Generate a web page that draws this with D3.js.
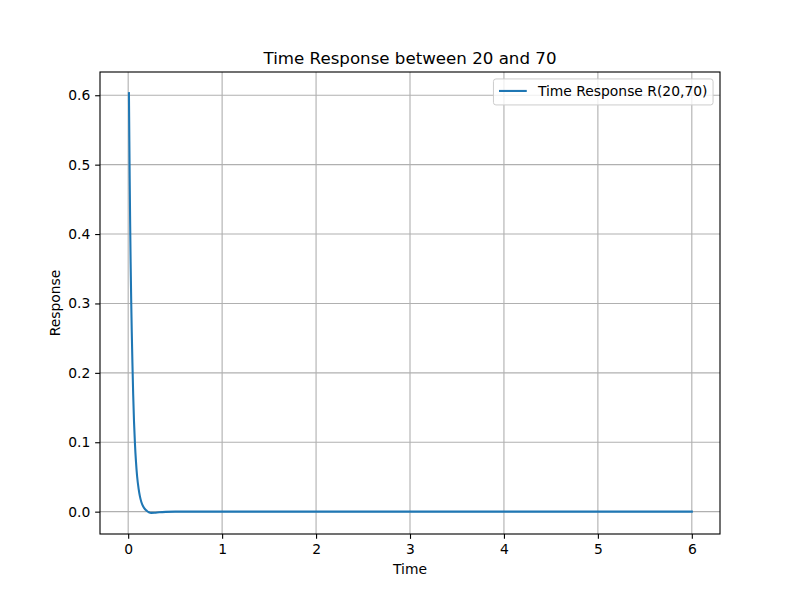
<!DOCTYPE html>
<html>
<head>
<meta charset="utf-8">
<script src="https://cdn.jsdelivr.net/npm/d3@7"></script>
<style>
  html, body { margin: 0; padding: 0; background: #ffffff; }
  svg { display: block; font-family: "DejaVu Sans", sans-serif; }
</style>
</head>
<body>
<svg id="chart" width="800" height="600"></svg>
<script>
// ---- data ----
const timeValues = [0.008, 0.012, 0.016, 0.021, 0.026, 0.032, 0.038, 0.045, 0.053, 0.062,
                    0.072, 0.083, 0.095, 0.11, 0.125, 0.14, 0.16, 0.18, 0.2, 0.22,
                    0.245, 0.28, 0.33, 0.4, 0.5, 1, 2, 3, 4, 5, 6];
const responseValues = [0.603, 0.54, 0.48, 0.415, 0.36, 0.305, 0.26, 0.215, 0.17, 0.13,
                        0.098, 0.072, 0.051, 0.034, 0.022, 0.014, 0.0075, 0.0035, 0.001, -0.0008,
                        -0.0018, -0.0016, -0.0009, -0.0003, 0, 0, 0, 0, 0, 0, 0];
const xTicks = [0, 1, 2, 3, 4, 5, 6];
const yTicks = [0.0, 0.1, 0.2, 0.3, 0.4, 0.5, 0.6];
const titleText = "Time Response between 20 and 70";
const xLabel = "Time";
const yLabel = "Response";
const seriesName = "Time Response R(20,70)";

// ---- layout (matplotlib default figure) ----
const pLeft = 100, pRight = 720, pTop = 72, pBottom = 534;
const pt = 100 / 72;
const tickLen = 3.5 * pt, tickPad = 3.5 * pt;

const points = timeValues.map((t, i) => ({ t, r: responseValues[i] }));

const x = d3.scaleLinear().domain([-0.3, 6.3]).range([pLeft, pRight]);
const y = d3.scaleLinear().domain([-0.0322, 0.6335]).range([pBottom, pTop]);

const svg = d3.select("#chart");

// grid
const grid = svg.append("g").attr("stroke", "#b0b0b0").attr("stroke-width", 0.8 * pt);
grid.selectAll("line.gx").data(xTicks).join("line").attr("class", "gx")
  .attr("x1", d => x(d)).attr("x2", d => x(d)).attr("y1", pTop).attr("y2", pBottom);
grid.selectAll("line.gy").data(yTicks).join("line").attr("class", "gy")
  .attr("y1", d => y(d)).attr("y2", d => y(d)).attr("x1", pLeft).attr("x2", pRight);

// clip
svg.append("clipPath").attr("id", "clip").append("rect")
  .attr("x", pLeft).attr("y", pTop).attr("width", pRight - pLeft).attr("height", pBottom - pTop);

// line
const line = d3.line().x(d => x(d.t)).y(d => y(d.r)).curve(d3.curveMonotoneX);
svg.append("path").datum(points)
  .attr("clip-path", "url(#clip)")
  .attr("fill", "none").attr("stroke", "#1f77b4").attr("stroke-width", 1.5 * pt)
  .attr("stroke-linecap", "square").attr("stroke-linejoin", "round")
  .attr("d", line);

// axes
const xAxis = d3.axisBottom(x).tickValues(xTicks).tickFormat(d3.format("d"))
  .tickSizeInner(tickLen).tickSizeOuter(0).tickPadding(tickPad);
const yAxis = d3.axisLeft(y).tickValues(yTicks).tickFormat(d3.format(".1f"))
  .tickSizeInner(tickLen).tickSizeOuter(0).tickPadding(tickPad);

const gx = svg.append("g").attr("transform", `translate(0,${pBottom})`).call(xAxis);
const gy = svg.append("g").attr("transform", `translate(${pLeft},0)`).call(yAxis);
[gx, gy].forEach(g => {
  g.select(".domain").remove();
  g.selectAll(".tick line").attr("stroke", "#000").attr("stroke-width", 0.8 * pt);
  g.selectAll(".tick text").attr("fill", "#000").attr("font-size", 10 * pt)
    .attr("font-family", "DejaVu Sans, sans-serif");
});
gx.selectAll(".tick text").attr("dy", "0.74em");

// spines
svg.append("rect").attr("x", pLeft).attr("y", pTop)
  .attr("width", pRight - pLeft).attr("height", pBottom - pTop)
  .attr("fill", "none").attr("stroke", "#000").attr("stroke-width", 0.8 * pt);

// title and labels
svg.append("text").attr("x", (pLeft + pRight) / 2).attr("y", 64)
  .attr("text-anchor", "middle").attr("font-size", 12 * pt).attr("fill", "#000")
  .text(titleText);
svg.append("text").attr("x", (pLeft + pRight) / 2).attr("y", 574)
  .attr("text-anchor", "middle").attr("font-size", 10 * pt).attr("fill", "#000")
  .text(xLabel);
svg.append("text").attr("transform", `translate(60,${(pTop + pBottom) / 2}) rotate(-90)`)
  .attr("text-anchor", "middle").attr("font-size", 10 * pt).attr("fill", "#000")
  .text(yLabel);

// legend
const fs = 10 * pt;
const lg = svg.append("g");
const legBox = lg.append("rect");
const legText = lg.append("text").attr("font-size", fs).attr("fill", "#000").text(seriesName);
const textW = legText.node().getComputedTextLength();
const boxRight = pRight - 0.5 * fs, boxTop = pTop + 0.5 * fs;
const boxW = 0.4 * fs + 2 * fs + 0.8 * fs + textW + 0.4 * fs;
const boxH = 26;
const boxLeft = boxRight - boxW;
legBox.attr("x", boxLeft).attr("y", boxTop).attr("width", boxW).attr("height", boxH)
  .attr("rx", 2.5).attr("fill", "#ffffff").attr("fill-opacity", 0.8)
  .attr("stroke", "#cccccc").attr("stroke-width", 1);
lg.append("line")
  .attr("x1", boxLeft + 0.4 * fs).attr("x2", boxLeft + 0.4 * fs + 2 * fs)
  .attr("y1", boxTop + boxH / 2 - 1).attr("y2", boxTop + boxH / 2 - 1)
  .attr("stroke", "#1f77b4").attr("stroke-width", 1.5 * pt);
legText.attr("x", boxLeft + 0.4 * fs + 2.8 * fs).attr("y", boxTop + boxH / 2 + 4);
</script>
</body>
</html>
